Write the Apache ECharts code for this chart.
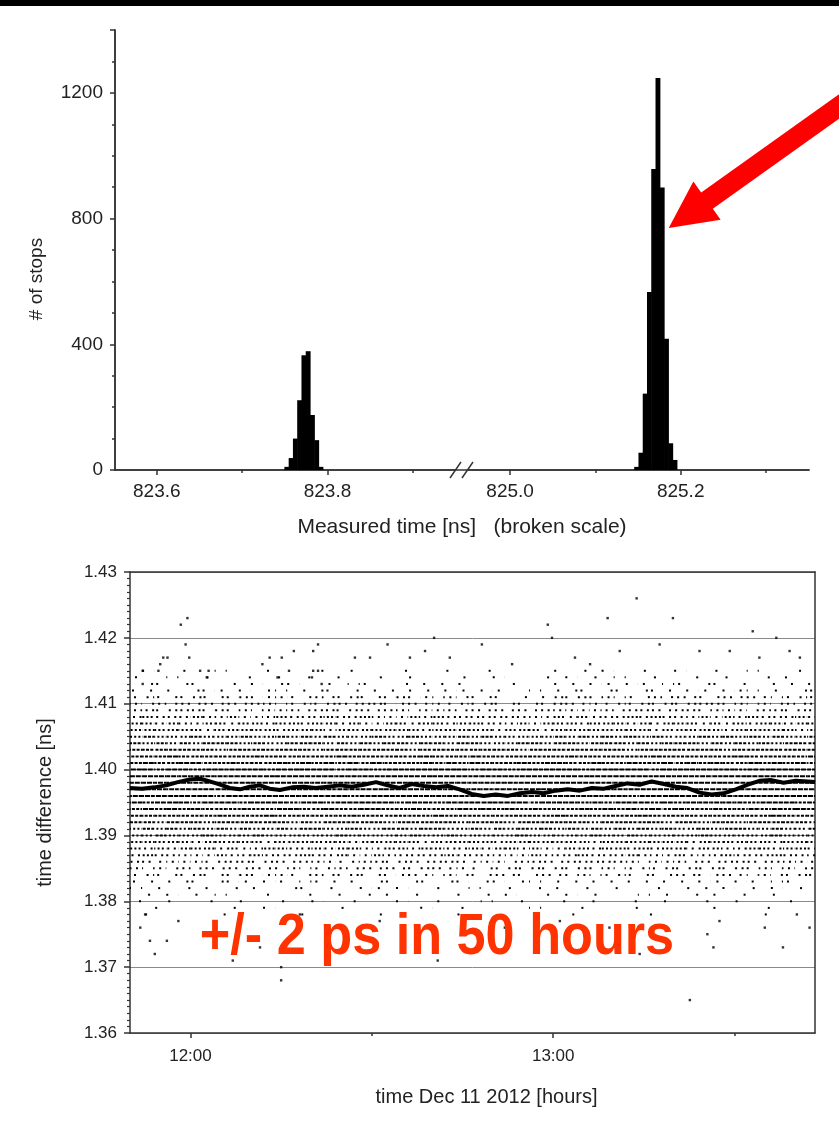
<!DOCTYPE html>
<html><head><meta charset="utf-8">
<script src="https://cdn.jsdelivr.net/npm/echarts@6/dist/echarts.min.js"></script>
<style>html,body{margin:0;padding:0;background:#fff}#c{width:839px;height:1129px}</style>
</head><body><div id="c"></div>
<script>
// ---------------- TOP PANEL DATA (histogram, broken scale) ----------------
const histBinWidth = 0.005;
const peak1Centers = [823.752, 823.757, 823.762, 823.767, 823.772, 823.777, 823.782, 823.787, 823.792];
const peak1Counts  = [10, 38, 100, 222, 365, 378, 175, 95, 10];
const peak2Centers = [825.148, 825.153, 825.158, 825.163, 825.168, 825.173, 825.178, 825.183, 825.188, 825.193];
const peak2Counts  = [10, 55, 243, 566, 958, 1247, 899, 418, 85, 32];
const leftMajorTicks  = [823.6, 823.8];
const leftMinorTicks  = [823.7, 823.9];
const rightMajorTicks = [825.0, 825.2];
const rightMinorTicks = [825.1, 825.3];
const leftRange  = [823.551, 823.950];
const rightRange = [824.950, 825.3505];
const countRange = [0, 1400];
const arrowTarget = [825.186, 770];

// ---------------- BOTTOM PANEL DATA ----------------
const timeRange = [710, 823.3];            // minutes of day (11:50 .. 13:43)
const timeMajorTicks = [720, 780];
const timeMajorLabels = ['12:00', '13:00'];
const timeMinorTicks = [750, 810];
const diffRange = [1.36, 1.43];
const cellStart = 710, cellMinutes = 2;   // density cells: 2-minute columns
const densityRowValues = [1.415,1.414,1.413,1.412,1.411,1.410,1.409,1.408,1.407,1.406,1.405,1.404,1.403,1.402,1.401,1.400,1.399,1.398,1.397,1.396,1.395,1.394,1.393,1.392,1.391,1.390,1.389,1.388,1.387,1.386,1.385,1.384,1.383,1.382,1.381,1.380,1.379,1.378];
const densityRowCells = [
"01001 00100 01000 10010 00100 01001 00000 10101 00100 10010 01000 10000",
"10010 01001 00101 00100 10010 00100 10001 01010 10010 01001 00101 00100",
"01101 10010 10110 01011 00101 10100 01000 11011 01101 10110 10011 01000",
"11010 11101 01101 11010 11011 01101 10010 11101 10111 01101 11010 11000",
"12111 21112 11211 21121 11211 12111 10101 21212 11121 21112 12111 21000",
"21212 12121 22112 12212 21121 21212 11111 22121 21212 12221 21212 12000",
"22122 21212 12221 22122 12212 22121 21212 22222 12221 22122 21221 22000",
"23222 32232 22322 23223 22232 32222 22222 32322 23232 22323 23222 32000",
"33232 23323 32332 33232 23323 32332 22323 33233 32323 33232 32332 33000",
"33333 32333 33233 32333 33332 33333 23332 33333 33323 33332 33333 23000",
"34333 43334 33434 34333 43343 33434 33333 43434 34343 33434 34343 34000",
"43434 34443 43344 43434 34434 43443 33443 44344 43434 44343 43434 44000",
"44444 44344 44444 34444 44434 44444 44344 44444 43444 44443 44444 44000",
"44454 44444 54444 44544 44445 44454 44444 45444 44454 44444 54444 45000",
"45445 54454 44545 45454 54445 45454 44545 54454 45445 45454 45454 54000",
"55455 45555 54555 55455 45555 55545 54555 55455 55545 55555 45555 55000",
"55555 55555 55555 55555 55555 55555 55555 55555 55555 55555 55555 55000",
"55555 55555 55555 55555 55555 55555 55555 55555 55555 55555 55555 55000",
"55555 55555 55555 55555 55555 55555 55555 55555 55555 55555 55555 55000",
"55555 55455 55555 55545 55555 55555 55555 55555 54555 55555 55555 55000",
"54555 45554 55545 54555 55455 45555 55545 55454 55545 45555 54555 45000",
"45454 54445 44554 45445 54454 44545 45454 44545 45454 54454 45454 54000",
"44444 44544 45444 44454 44444 54444 44444 54444 44544 44444 44454 44000",
"44344 43444 44434 34444 43444 44344 43444 44434 44443 44344 34444 43000",
"34343 43434 33434 43343 34434 43343 43434 34343 43434 33434 43343 34000",
"33433 34333 43333 33433 33343 34333 33433 33343 34333 33433 33343 33000",
"33333 23333 32333 33323 33332 33333 23333 33323 33333 32333 33323 33000",
"32323 33232 23322 32332 23323 32232 33232 23323 32323 32332 23323 32000",
"23222 22322 32223 22322 32222 23222 22232 22322 23222 32223 22232 22000",
"22122 21222 12212 22122 21221 22212 21222 12222 22122 21212 22122 21000",
"21212 12121 21121 12212 12112 21211 12121 21212 11212 12121 21212 12000",
"12111 21112 11211 21121 11121 12111 21112 11211 21111 21112 11211 21000",
"11011 10111 01101 11010 11011 01101 10110 11011 01101 10110 11011 01000",
"10101 01010 10011 01001 10100 10010 01010 10100 10010 01101 01010 10000",
"01010 10100 01001 00101 01010 00101 01001 01010 00101 01010 10010 01000",
"10010 01001 00100 10010 00100 10001 00100 10010 01001 00100 10001 00100",
"00100 00010 01000 00100 00001 00100 00010 00100 01000 00010 00100 00010",
"01000 00100 00001 00000 10000 00100 00000 01000 00010 00000 00100 00001"
];
const outlierTimes  = [719.5,718.4,719.2,719.8,716.2,712.1,712.1,714.7,715.5,715.0,721.6,723.0,722.7,731.9,733.1,735.1,734.4,737.1,736.3,740.3,741.1,740.3,741.1,740.1,741.7,752.6,747.2,760.3,758.8,756.3,768.2,779.1,779.8,789.0,793.8,799.8,791.0,797.6,804.2,813.0,816.9,819.1,814.1,809.2,820.8,783.6,773.2,786.1,762.9,749.7,
                       712.5,713.3,714.1,716.1,727.0,735.0,735.0,731.5,760.9,794.3,802.6,806.5,805.5,815.0,818.0,807.5,820.3,822.4,711.7,718.0,738.1,751.3,781.1,772.0,789.3];
const outlierValues = [1.423,1.422,1.419,1.417,1.417,1.415,1.413,1.415,1.417,1.416,1.415,1.415,1.414,1.416,1.417,1.417,1.414,1.418,1.415,1.418,1.419,1.415,1.415,1.414,1.413,1.419,1.417,1.420,1.418,1.417,1.419,1.422,1.420,1.423,1.426,1.423,1.418,1.419,1.418,1.421,1.420,1.418,1.417,1.418,1.417,1.417,1.416,1.416,1.417,1.417,
                       1.378,1.374,1.372,1.374,1.371,1.370,1.368,1.373,1.371,1.372,1.365,1.373,1.375,1.376,1.373,1.377,1.378,1.376,1.376,1.377,1.378,1.377,1.377,1.376,1.376];
const avgTimes  = [710.0,712.0,714.0,716.0,717.9,719.9,721.6,723.2,724.9,726.5,728.2,729.8,731.5,733.1,734.8,736.8,738.8,740.7,742.7,744.7,746.7,748.7,750.7,752.6,754.6,756.6,758.6,760.6,762.6,764.5,766.5,768.5,770.5,772.5,774.5,776.5,778.4,780.4,782.4,784.4,786.4,788.4,790.3,792.3,794.3,796.3,798.3,800.3,802.2,804.2,806.2,808.2,810.2,812.2,814.1,816.1,818.1,820.1,822.1,823.3];
const avgValues = [1.3972,1.3971,1.3973,1.3976,1.3981,1.3985,1.3986,1.3982,1.3977,1.3972,1.3970,1.3974,1.3976,1.3971,1.3969,1.3973,1.3974,1.3972,1.3974,1.3976,1.3974,1.3977,1.3981,1.3976,1.3972,1.3978,1.3975,1.3973,1.3975,1.3970,1.3963,1.3960,1.3962,1.3960,1.3964,1.3966,1.3964,1.3968,1.3970,1.3968,1.3972,1.3971,1.3975,1.3979,1.3977,1.3982,1.3978,1.3974,1.3972,1.3965,1.3962,1.3964,1.3970,1.3977,1.3983,1.3984,1.3980,1.3983,1.3982,1.3981];

// ---------------- build ----------------
const FONT = "'Liberation Sans', Arial, Helvetica, sans-serif";
const AX = '#333';
const DASH = {1:[2,10], 2:[2,4.5], 3:[2,2.2], 4:[3,1.3], 5:[5,0.9]};

const peak1Data = peak1Centers.map((c, i) => [c, peak1Counts[i]]);
const peak2Data = peak2Centers.map((c, i) => [c, peak2Counts[i]]);
const densityData = [];
densityRowCells.forEach((s, r) => {
  const cells = s.replace(/ /g, '');
  for (let i = 0; i < cells.length; i++) {
    const lvl = +cells[i];
    if (lvl > 0) densityData.push([cellStart + i * cellMinutes, cellStart + (i + 1) * cellMinutes, densityRowValues[r], lvl, r]);
  }
});
const outlierData = outlierTimes.map((t, i) => [t, outlierValues[i]]);
const avgData = avgTimes.map((t, i) => [t, avgValues[i]]);

function binItem(params, api) {
  const c = api.value(0), v = api.value(1);
  const p0 = api.coord([c - histBinWidth / 2, v]);
  const p1 = api.coord([c + histBinWidth / 2, 0]);
  return {type: 'rect', shape: {x: p0[0], y: p0[1], width: p1[0] - p0[0] + 0.6, height: p1[1] - p0[1]},
          style: {fill: '#000'}};
}
function cellItem(params, api) {
  const a = api.coord([api.value(0), api.value(2)]);
  const b = api.coord([api.value(1), api.value(2)]);
  const lvl = api.value(3), row = api.value(4);
  return {type: 'line', shape: {x1: a[0], y1: a[1], x2: b[0], y2: b[1]},
          style: {stroke: '#000', lineWidth: 2, lineDash: DASH[lvl], lineDashOffset: (params.dataIndex * 7 + row * 5) % 13, lineCap: 'butt'}};
}

const lblTop = {color: '#222', fontSize: 19, fontFamily: FONT};
const lblBot = {color: '#222', fontSize: 17, fontFamily: FONT};
const axLine = {show: true, lineStyle: {color: AX, width: 1.5}};
const none = {show: false};

const option = {
  animation: false,
  backgroundColor: '#fff',
  grid: [
    {left: 115, top: 30, width: 340.5, height: 440},
    {left: 467.5, top: 30, width: 341.5, height: 440},
    {left: 115, top: 30, width: 694, height: 440},
    {left: 130, top: 572, width: 685, height: 461}
  ],
  xAxis: [
    {gridIndex: 0, type: 'value', position: 'bottom', min: leftRange[0], max: leftRange[1], axisLine: axLine,
     axisTick: {show: true, customValues: leftMajorTicks, length: 5, lineStyle: {color: AX, width: 1.5}},
     axisLabel: Object.assign({customValues: leftMajorTicks, margin: 12, formatter: v => v.toFixed(1)}, lblTop), splitLine: none},
    {gridIndex: 0, type: 'value', position: 'bottom', min: leftRange[0], max: leftRange[1], axisLine: none,
     axisTick: {show: true, customValues: leftMinorTicks, length: 3, lineStyle: {color: AX, width: 1.5}},
     axisLabel: none, splitLine: none},
    {gridIndex: 1, type: 'value', position: 'bottom', min: rightRange[0], max: rightRange[1], axisLine: axLine,
     axisTick: {show: true, customValues: rightMajorTicks, length: 5, lineStyle: {color: AX, width: 1.5}},
     axisLabel: Object.assign({customValues: rightMajorTicks, margin: 12, formatter: v => v.toFixed(1)}, lblTop), splitLine: none},
    {gridIndex: 1, type: 'value', position: 'bottom', min: rightRange[0], max: rightRange[1], axisLine: none,
     axisTick: {show: true, customValues: rightMinorTicks, length: 3, lineStyle: {color: AX, width: 1.5}},
     axisLabel: none, splitLine: none},
    {gridIndex: 2, type: 'value', position: 'top', min: 0, max: 1, axisLine: axLine, axisTick: none, axisLabel: none, splitLine: none},
    {gridIndex: 2, type: 'value', position: 'bottom', min: 0, max: 1, axisLine: none, axisTick: none, axisLabel: none, splitLine: none,
     name: 'Measured time [ns]   (broken scale)', nameLocation: 'middle', nameGap: 47,
     nameTextStyle: {color: '#222', fontSize: 21, fontFamily: FONT}},
    {gridIndex: 3, type: 'value', position: 'bottom', min: timeRange[0], max: timeRange[1], axisLine: axLine,
     axisTick: {show: true, customValues: timeMajorTicks, length: 5, lineStyle: {color: AX, width: 1.5}},
     axisLabel: Object.assign({customValues: timeMajorTicks, margin: 15,
       formatter: v => timeMajorLabels[timeMajorTicks.indexOf(Math.round(v))] || ''}, lblBot),
     splitLine: none,
     name: 'time Dec 11 2012 [hours]', nameLocation: 'middle', nameGap: 54,
     nameTextStyle: {color: '#222', fontSize: 20, fontFamily: FONT, padding: [0, 0, 0, 28]}},
    {gridIndex: 3, type: 'value', position: 'bottom', min: timeRange[0], max: timeRange[1], axisLine: none,
     axisTick: {show: true, customValues: timeMinorTicks, length: 3, lineStyle: {color: AX, width: 1.5}},
     axisLabel: none, splitLine: none},
    {gridIndex: 3, type: 'value', position: 'top', min: 0, max: 1, axisLine: axLine, axisTick: none, axisLabel: none, splitLine: none}
  ],
  yAxis: [
    {gridIndex: 0, type: 'value', position: 'left', min: countRange[0], max: countRange[1], interval: 400, axisLine: axLine,
     axisTick: {show: true, length: 5, lineStyle: {color: AX, width: 1.5}},
     minorTick: {show: true, splitNumber: 4, length: 3, lineStyle: {color: AX, width: 1.5}},
     axisLabel: Object.assign({margin: 12, showMaxLabel: false, formatter: v => (v >= countRange[1] ? '' : String(v))}, lblTop), splitLine: none,
     name: '# of stops', nameLocation: 'middle', nameGap: 69,
     nameTextStyle: {color: '#222', fontSize: 19, fontFamily: FONT, padding: [0, 58, 0, 0]}},
    {gridIndex: 1, type: 'value', min: countRange[0], max: countRange[1], show: false},
    {gridIndex: 2, type: 'value', position: 'right', min: 0, max: 1, axisLine: axLine, axisTick: none, axisLabel: none, splitLine: none},
    {gridIndex: 3, type: 'value', position: 'left', min: diffRange[0], max: diffRange[1], interval: 0.01, axisLine: axLine,
     axisTick: {show: true, length: 6, lineStyle: {color: AX, width: 1.5}},
     minorTick: {show: true, splitNumber: 10, length: 3, lineStyle: {color: AX, width: 1.2}},
     axisLabel: Object.assign({margin: 13, formatter: v => v.toFixed(2)}, lblBot),
     splitLine: {show: true, lineStyle: {color: '#8a8a8a', width: 1}},
     name: 'time difference [ns]', nameLocation: 'middle', nameGap: 75,
     nameTextStyle: {color: '#222', fontSize: 20, fontFamily: FONT}},
    {gridIndex: 3, type: 'value', position: 'right', min: 0, max: 1, axisLine: axLine, axisTick: none, axisLabel: none, splitLine: none}
  ],
  series: [
    {type: 'custom', xAxisIndex: 0, yAxisIndex: 0, renderItem: binItem, data: peak1Data, clip: true, encode: {x: 0, y: 1}},
    {type: 'custom', xAxisIndex: 2, yAxisIndex: 1, renderItem: binItem, data: peak2Data, clip: true, encode: {x: 0, y: 1}},
    {type: 'custom', xAxisIndex: 6, yAxisIndex: 3, renderItem: cellItem, data: densityData, clip: true, encode: {x: [0, 1], y: 2}, z: 2},
    {type: 'scatter', xAxisIndex: 6, yAxisIndex: 3, data: outlierData, symbol: 'rect', symbolSize: 2.4,
     itemStyle: {color: '#000'}, z: 3},
    {type: 'line', xAxisIndex: 6, yAxisIndex: 3, data: avgData, showSymbol: false, symbol: 'none',
     lineStyle: {color: '#000', width: 4}, z: 4}
  ]
};

const chart = echarts.init(document.getElementById('c'), null, {renderer: 'canvas'});
chart.setOption(option);

// decorations positioned from the axes
const yBase = chart.convertToPixel({yAxisIndex: 0}, 0);
const xa = chart.convertToPixel({xAxisIndex: 0}, leftRange[1]);
const xb = chart.convertToPixel({xAxisIndex: 2}, rightRange[0]);
const tip = chart.convertToPixel({gridIndex: 1}, arrowTarget);
const ang = 35.5 * Math.PI / 180;
const u = [Math.cos(ang), -Math.sin(ang)], n = [Math.sin(ang), Math.cos(ang)];
const headLen = 47, headHalf = 23.5, shaftHalf = 10, shaftLen = 320;
const B = [tip[0] + headLen * u[0], tip[1] + headLen * u[1]];
const P = (base, k, m) => [base[0] + k * n[0] + m * u[0], base[1] + k * n[1] + m * u[1]];
const arrowPts = [tip, P(B, -headHalf, 0), P(B, -shaftHalf, 0), P(B, -shaftHalf, shaftLen), P(B, shaftHalf, shaftLen), P(B, shaftHalf, 0), P(B, headHalf, 0)];

chart.setOption({
  graphic: [
    {type: 'rect', shape: {x: 0, y: 0, width: 839, height: 6}, style: {fill: '#000'}, z: 100},
    {type: 'line', shape: {x1: xa - 5.5, y1: yBase + 8, x2: xa + 5.5, y2: yBase - 8}, style: {stroke: AX, lineWidth: 1.5}, z: 100},
    {type: 'line', shape: {x1: xb - 5.5, y1: yBase + 8, x2: xb + 5.5, y2: yBase - 8}, style: {stroke: AX, lineWidth: 1.5}, z: 100},
    {type: 'polygon', shape: {points: arrowPts}, style: {fill: '#ff0000'}, z: 100},
    {type: 'text', x: 437, y: 938, scaleX: 0.9, z: 100,
     style: {text: '+/- 2 ps in 50 hours', fill: '#ff3300', font: "bold 58px 'Liberation Sans', Arial, sans-serif",
             align: 'center', verticalAlign: 'middle'}}
  ]
});
</script></body></html>
